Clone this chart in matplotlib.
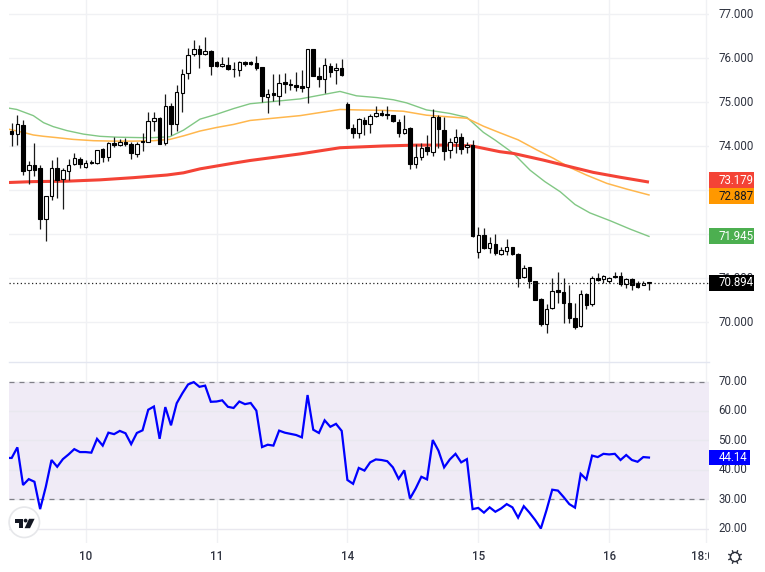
import matplotlib
matplotlib.use("Agg")
import matplotlib.pyplot as plt
from matplotlib.patches import Rectangle, Circle, Polygon
from matplotlib.transforms import Bbox
import numpy as np

plt.rcParams['font.family'] = ['Roboto', 'DejaVu Sans']

opens = [74.34,74.27,74.47,73.46,73.56,73.50,72.33,72.87,73.49,73.25,73.42,73.58,73.71,73.52,73.63,73.61,73.93,73.76,74.06,74.02,74.08,74.05,73.82,74.11,74.10,74.57,74.64,74.06,74.90,74.49,75.20,75.65,76.08,76.20,76.08,76.15,75.92,75.82,75.85,75.76,75.72,75.91,75.90,75.89,
         75.79,75.12,75.20,75.14,75.45,75.40,75.38,75.37,75.35,76.20,75.59,75.52,75.82,75.72,75.77,74.95,74.42,74.29,74.59,74.51,74.68,74.75,74.73,74.70,74.55,74.29,74.42,73.58,73.74,73.97,73.86,74.65,74.36,73.90,74.08,74.20,73.97,74.03,
         71.60,71.98,71.68,71.77,71.55,71.61,71.70,71.55,71.02,71.24,70.93,70.52,69.95,70.31,70.73,70.67,70.44,70.09,69.91,70.64,70.41,71.00,70.97,70.93,71.04,71.05,70.86,70.98,70.88,70.85,70.89]
highs = [74.52,74.70,74.59,73.66,74.06,73.56,72.87,73.67,73.74,73.49,73.70,73.85,73.76,73.68,73.68,73.91,73.96,74.10,74.20,74.15,74.17,74.10,74.08,74.29,74.78,74.78,74.67,75.18,74.97,75.39,75.74,76.22,76.42,76.30,76.47,76.18,75.94,76.03,76.03,75.92,75.94,75.94,75.94,76.05,
         75.80,75.29,75.64,75.64,75.65,75.52,75.69,75.73,76.20,76.20,75.80,75.99,75.88,75.88,75.97,74.99,74.49,74.63,74.65,74.73,74.91,74.82,74.91,74.71,74.61,74.70,74.44,74.05,74.06,74.25,74.85,74.70,74.65,74.17,74.38,74.29,74.08,74.14,
         72.15,72.13,71.94,71.99,71.71,71.88,71.71,71.56,71.30,71.26,70.94,70.54,70.41,71.01,71.14,71.01,70.84,70.42,70.73,70.65,71.04,71.12,71.07,71.03,71.14,71.14,70.99,71.01,70.94,70.92,70.89]
lows = [74.00,74.02,73.34,73.13,73.32,72.11,71.83,72.77,72.81,72.56,73.23,73.57,73.49,73.51,73.59,73.59,73.64,73.66,73.97,74.00,73.99,73.70,73.76,73.89,74.08,74.33,74.04,74.02,74.25,74.34,74.78,75.52,76.05,75.77,76.07,75.61,75.79,75.80,75.73,75.56,75.59,75.82,75.83,75.73,
        75.01,74.74,75.03,74.93,75.20,75.27,75.25,75.23,74.98,75.58,75.35,75.20,75.56,75.42,75.58,74.39,74.17,74.17,74.26,74.29,74.65,74.68,74.61,74.55,74.20,74.27,73.48,73.51,73.68,73.80,73.77,73.95,73.67,73.72,73.85,73.82,73.85,71.92,
        71.45,71.65,71.56,71.52,71.52,71.52,71.52,70.79,70.99,70.77,70.49,69.91,69.76,70.30,70.42,69.97,69.97,69.84,69.89,70.29,70.36,70.93,70.88,70.88,71.01,70.82,70.77,70.73,70.77,70.83,70.73]
closes = [74.28,74.49,73.44,73.56,73.46,72.34,72.86,73.49,73.23,73.45,73.56,73.72,73.60,73.61,73.61,73.91,73.74,74.06,74.02,74.08,74.04,73.83,74.05,74.08,74.57,74.63,74.05,74.92,74.49,75.22,75.63,76.06,76.21,76.10,76.15,75.82,75.82,75.87,75.75,75.74,75.91,75.86,75.87,75.77,
          75.13,75.18,75.15,75.44,75.42,75.38,75.35,75.31,76.20,75.60,75.52,75.83,75.69,75.78,75.62,74.42,74.29,74.61,74.50,74.68,74.74,74.71,74.70,74.57,74.29,74.39,73.58,73.75,73.95,73.88,74.65,74.38,73.89,74.08,74.20,73.94,74.03,71.96,
          71.98,71.67,71.79,71.56,71.64,71.70,71.55,71.01,71.23,70.92,70.50,69.95,70.29,70.71,70.69,70.42,70.08,69.89,70.63,70.39,71.01,70.95,71.05,71.01,71.02,70.86,70.98,70.84,70.79,70.89,70.885]

green_x = [-0.47,0.9,3.8,5.6,7.3,9.7,12.6,15.5,18.5,22.6,24.9,27.8,30.2,33.1,36,39,41.9,50.7,57.7,60.6,64.2,67.1,69.4,72.9,77,80,82.9,85,88.2,91.1,93.7,96.4,99,101.6,105.2,108.7,112]
green_y = [74.86,74.83,74.69,74.53,74.44,74.35,74.27,74.22,74.20,74.19,74.19,74.21,74.36,74.61,74.72,74.85,74.96,75.07,75.24,75.14,75.10,75.05,74.98,74.82,74.74,74.65,74.31,74.13,73.83,73.45,73.19,72.96,72.67,72.48,72.30,72.11,71.945]
orange_x = [-0.47,2.3,3.8,5.6,7.9,10.8,14.4,17.9,21.4,24.9,27.8,30.2,33.1,36,39,41.9,50.7,57.7,60.6,65.3,68.8,72.9,77,80,82.9,85.8,89,92.3,95.2,98.1,101,104.6,108.1,112]
orange_y = [74.38,74.30,74.25,74.22,74.19,74.15,74.12,74.11,74.11,74.12,74.15,74.23,74.34,74.42,74.49,74.58,74.69,74.83,74.82,74.81,74.79,74.70,74.66,74.63,74.45,74.30,74.14,73.91,73.72,73.51,73.34,73.15,73.02,72.887]
red_x = [-0.47,3.8,9.7,15.5,21.4,27.3,30.2,33.1,39,41.9,50.7,57.7,65.3,71.2,77,80.9,85.8,88.2,93.4,98.1,102.2,106.9,112]
red_y = [73.17,73.19,73.20,73.23,73.28,73.34,73.39,73.48,73.61,73.67,73.82,73.96,74.00,74.02,74.02,74.00,73.87,73.83,73.68,73.53,73.40,73.29,73.179]

rsi = [44.0,44.0,47.6,34.8,36.8,35.9,26.6,34.2,43.3,41.0,43.6,45.2,47.0,46.0,46.0,45.8,50.5,48.2,52.6,52.1,53.2,52.4,48.7,52.5,53.4,60.4,61.5,50.5,61.3,55.1,62.6,66.0,69.0,69.8,68.2,68.6,63.1,63.2,63.6,61.4,61.0,63.2,62.3,62.7,60.1,47.7,48.5,48.2,53.3,52.6,52.2,51.8,51.0,65.4,53.6,52.5,56.8,54.6,55.6,53.2,36.5,35.2,40.6,39.7,42.5,43.5,43.3,42.9,40.8,36.9,39.8,30.2,33.6,37.6,36.7,50.1,46.5,40.8,43.5,45.4,42.5,43.6,26.6,27.0,25.4,27.2,25.7,26.8,28.3,27.2,23.7,27.6,25.4,22.9,20.0,26.3,33.2,32.9,30.7,28.3,27.1,38.6,36.7,44.8,44.3,45.4,45.2,45.4,43.3,45.0,43.3,42.7,44.3,44.14]

grid_prices = [77,76,75,74,73,72,71,70]
price_labels = [77,76,75,74,71,70]
rsi_ticks = [70,60,50,40,30,20]
day_labels = ['10','11','14','15','16']
day_idx = [13,36,59,82,105]
last_price = 70.894

W, H = 765, 572
fig = plt.figure(figsize=(W/100, H/100), dpi=100, facecolor='white')

def fx(p): return p / W
def fy(p): return 1 - p / H

L, R = 9, 709
X0, X1 = -0.47, 122.55
ax = fig.add_axes([fx(L), fy(362), (R-L)/W, 362/H])
ax2 = fig.add_axes([fx(L), fy(543), (R-L)/W, 180/H])
GRID = '#f0f1f4'
for a in (ax, ax2):
    a.set_xlim(X0, X1)
    a.set_xticks([]); a.set_yticks([])
    for s in a.spines.values():
        s.set_visible(False)
    for d in day_idx + [122]:
        a.axvline(d, color=GRID, lw=1, zorder=0)
ax.set_ylim(69.09, 77.318)
ax2.set_ylim(15.07, 76.3)

for t in grid_prices:
    ax.axhline(t, color=GRID, lw=1, zorder=0)
for t in rsi_ticks:
    ax2.axhline(t, color='#e9e8ef', lw=1, zorder=1)

# moving averages
ax.plot(green_x, green_y, color='#81c784', lw=1.0, zorder=2)
ax.plot(orange_x, orange_y, color='#ffb74d', lw=1.1, zorder=2)
ax.plot(red_x, red_y, color='#f44336', lw=2.2, zorder=2, solid_capstyle='butt')

# candles
xs = np.arange(len(opens))
o, h, l, c = map(np.array, (opens, highs, lows, closes))
ax.vlines(xs, l, h, color='#1a1a1a', lw=0.9, zorder=3)
up = c >= o
bottoms = np.minimum(o, c)
heights = np.maximum(np.abs(c - o), 0.012)
ax.bar(xs, heights, bottom=bottoms, width=0.62,
       color=['white' if u else 'black' for u in up], edgecolor='black', lw=0.8, zorder=4)

ax.axhline(last_price, color='#222222', lw=0.9, ls=(0, (1, 2)), zorder=5)

# RSI pane
ax2.axhspan(30, 70, color='#f0ebf6', lw=0, zorder=0.5)
ax2.axhline(70, color='#808088', lw=0.9, ls=(0, (4, 4)), zorder=2)
ax2.axhline(30, color='#808088', lw=0.9, ls=(0, (4, 4)), zorder=2)
ax2.plot(np.arange(-1, len(rsi) - 1), rsi, color='#0000ff', lw=1.6, zorder=3, solid_joinstyle='miter')

# separator
fig.add_artist(plt.Line2D([fx(L), fx(R)], [fy(362.3)]*2, color='#e3e6f0', lw=1))

# axis labels
TXT = '#2f3340'
FS = 8.3
def py(v): return fy(14 + (77 - v) * 44)
def ry(v): return fy(381.5 + (70 - v) * 2.94)
for t in price_labels:
    fig.text(fx(719), py(t), f'{t:.3f}', color=TXT, fontsize=FS, va='center', ha='left')
for t in rsi_ticks:
    fig.text(fx(718.5), ry(t), f'{t:.2f}', color=TXT, fontsize=FS, va='center', ha='left')

def tag(top, bot, right, s, bg, fg):
    fig.add_artist(Rectangle((fx(709), fy(bot)), (right-709)/W, (bot-top)/H,
                             transform=fig.transFigure, color=bg, lw=0, zorder=5))
    fig.text(fx(719 if right > 752 else 718.5), fy((top+bot)/2), s, color=fg, fontsize=FS, va='center', ha='left', zorder=6)

tag(172, 188, 754, '73.179', '#f44336', 'white')
tag(188, 204, 754, '72.887', '#ff9800', '#131722')
tag(228, 244, 754, '71.945', '#4caf50', 'white')
tag(275, 291, 754, '70.894', '#000000', 'white')
tag(450, 465, 750, '44.14', '#0000ff', 'white')

for lab, d in zip(day_labels, day_idx):
    px = 11.7 + 5.69 * d
    fig.text(fx(px), fy(556), lab, color=TXT, fontsize=FS, va='center', ha='center', fontweight='medium')
t18 = fig.text(fx(706), fy(556), '18:00', color=TXT, fontsize=FS, va='center', ha='center', fontweight='medium')
t18.set_clip_on(True)
t18.set_clip_box(Bbox([[0, 0], [708.5, H]]))

# logo badge
fig.add_artist(Circle((24.3, H-522.3), 15.2, transform=None, fc='white', ec='#e6e7ea', lw=1.2, zorder=6))
logo = [[(14.5,518.8),(23,518.8),(23,528.2),(19,528.2),(19,522.6),(14.5,522.6)],
        [(29,518.8),(34.6,518.8),(30,528.2),(24.6,528.2)]]
for pts in logo:
    fig.add_artist(Polygon([(x, H-y) for x, y in pts], closed=True, transform=None, fc='#131722', ec='none', zorder=7))
fig.add_artist(Circle((25.6, H-520.6), 1.9, transform=None, fc='#131722', ec='none', zorder=7))

# settings sun icon
cx, cy = 735, 557
fig.add_artist(Circle((cx, H-cy), 4.6, transform=None, fc='white', ec='#2a2e39', lw=1.0, zorder=6))
for ang in np.arange(0, 360, 45) + 22.5:
    a = np.deg2rad(ang)
    fig.add_artist(plt.Line2D([cx+4.6*np.cos(a), cx+6.6*np.cos(a)],
                              [H-cy+4.6*np.sin(a), H-cy+6.6*np.sin(a)],
                              transform=None, color='#2a2e39', lw=1.0, zorder=6))

fig.savefig('out.png', dpi=100, facecolor='white')
